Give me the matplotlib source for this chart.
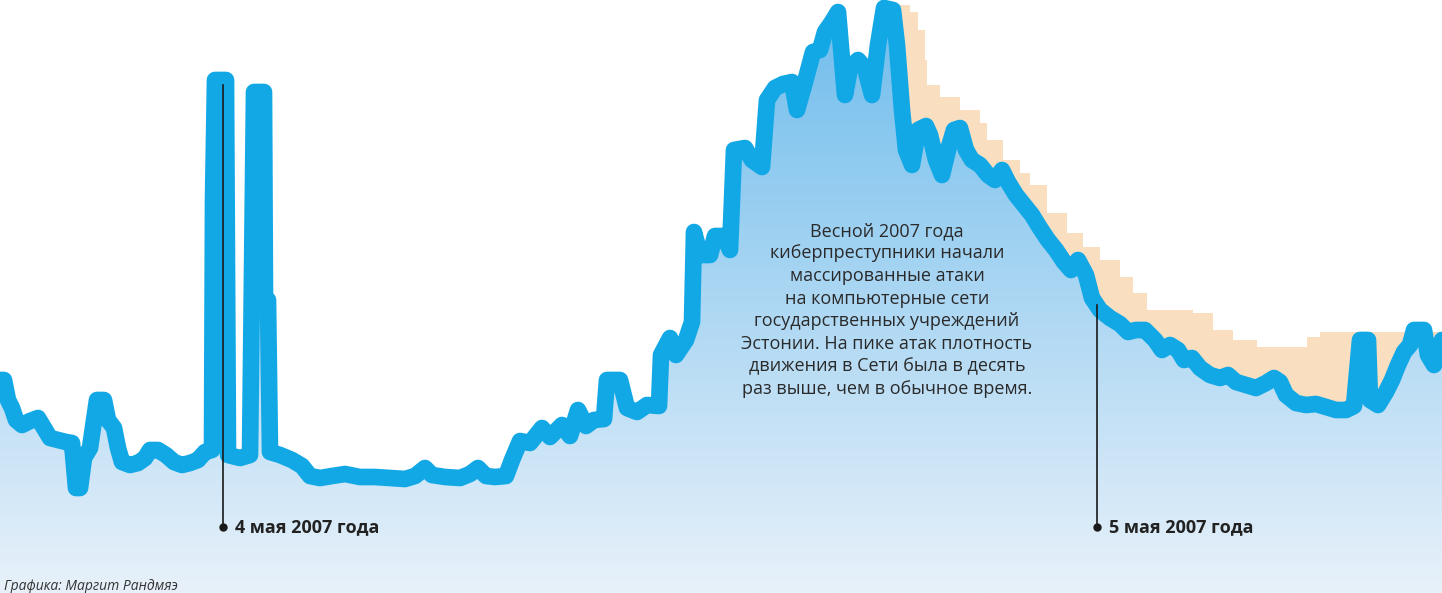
"""
Сетевой трафик Эстонии, атаки весны 2007 года.
"""
import numpy as np
import matplotlib.pyplot as plt
from matplotlib.patches import Polygon

# Основная серия: позиция по времени и уровень трафика (в условных единицах)
t_main = [4, 8, 12, 16, 22, 30, 38, 44, 50, 58, 66, 72, 76, 80, 84, 90, 97, 104,
          108, 114, 118, 122, 130, 138, 145, 150, 158, 166, 174, 182, 190, 198,
          205, 212, 213, 215, 226, 228, 240, 250, 254, 264, 265, 268, 270, 280,
          292, 302, 310, 320, 332, 345, 360, 375, 390, 405, 415, 425, 432, 445,
          460, 470, 478, 486, 495, 506, 512, 520, 530, 542, 550, 562, 570, 578,
          586, 594, 604, 607, 620, 627, 637, 647, 659, 661, 670, 676, 686, 692,
          694, 700, 710, 715, 724, 730, 734, 745, 752, 762, 767, 775, 783, 792,
          797, 805, 813, 820, 825, 832, 838, 842, 845, 850, 858, 865, 872, 878,
          884, 893, 897, 902, 906, 912, 918, 926, 930, 936, 942, 948, 954, 960,
          966, 972, 980, 988, 995, 1002, 1008, 1016, 1024, 1032, 1040, 1048,
          1056, 1064, 1071, 1078, 1086, 1092, 1100, 1110, 1120, 1128, 1136, 1145,
          1155, 1162, 1170, 1178, 1184, 1192, 1200, 1210, 1220, 1228, 1236, 1246,
          1256, 1266, 1274, 1280, 1286, 1296, 1306, 1316, 1326, 1336, 1346, 1354,
          1360, 1368, 1370, 1378, 1386, 1392, 1398, 1404, 1410, 1414, 1424, 1428,
          1434, 1442]
traffic = [213, 193, 185, 173, 168, 172, 175, 165, 155, 153, 151, 150, 105, 105,
           135, 145, 193, 193, 173, 165, 145, 131, 128, 130, 135, 143, 143, 138,
           131, 128, 130, 133, 141, 143, 393, 513, 513, 138, 135, 138, 501, 501,
           293, 293, 141, 138, 133, 127, 117, 115, 117, 119, 116, 116, 115, 114,
           117, 125, 118, 116, 115, 119, 125, 117, 116, 117, 133, 152, 150, 165,
           156, 168, 157, 183, 167, 173, 174, 213, 213, 185, 181, 188, 187, 238,
           255, 238, 253, 271, 361, 338, 338, 357, 357, 343, 443, 445, 433, 426,
           493, 505, 509, 511, 483, 511, 541, 543, 561, 571, 581, 533, 498, 525,
           533, 525, 498, 548, 585, 583, 548, 483, 443, 428, 463, 467, 458, 433,
           418, 443, 463, 465, 443, 433, 428, 418, 413, 423, 411, 398, 388, 378,
           365, 353, 343, 331, 323, 333, 318, 295, 283, 275, 269, 261, 263, 263,
           253, 243, 248, 243, 233, 235, 225, 218, 215, 218, 211, 208, 205, 210,
           215, 211, 198, 190, 188, 189, 186, 183, 183, 187, 253, 253, 193, 188,
           201, 213, 228, 241, 248, 263, 263, 238, 228, 253]

# Вторая серия (бежевая) после пика
t_second = [895, 905, 910, 918, 925, 927, 940, 960, 980, 987, 1003, 1020, 1030,
            1047, 1067, 1083, 1100, 1120, 1133, 1147, 1193, 1213, 1233, 1257,
            1293, 1307, 1320, 1442]
traffic_second = [588, 588, 581, 563, 533, 508, 496, 483, 470, 453, 433, 420,
                  408, 380, 360, 346, 333, 316, 300, 283, 280, 263, 253, 246,
                  246, 256, 261, 266]

# Отметки дат
date_pos = [223, 1097]
date_top = [508, 288]
date_labels = ["4 мая 2007 года", "5 мая 2007 года"]

note = ("Весной 2007 года\nкиберпреступники начали\nмассированные атаки\n"
        "на компьютерные сети\nгосударственных учреждений\n"
        "Эстонии. На пике атак плотность\nдвижения в Сети была в десять\n"
        "раз выше, чем в обычное время.")

W, H = 1442, 593

fig = plt.figure(figsize=(W / 100, H / 100), dpi=100)
ax = fig.add_axes([0, 0, 1, 1])
ax.set_xlim(0, W)
ax.set_ylim(0, H)
ax.axis("off")

# бежевая область
ax.fill_between(t_second, traffic_second, 0, step="post",
                color="#f9dfc0", lw=0, zorder=1)

# градиентная заливка под основной линией
top = np.array([110, 188, 236]) / 255
bottom = np.array([232, 241, 250]) / 255
k = np.linspace(0, 1, 256)[:, None]
grad = (bottom + (top - bottom) * k)[:, None, :]
im = ax.imshow(grad, extent=[0, W, 0, H], origin="lower", aspect="auto",
               zorder=2, interpolation="bilinear")
verts = list(zip(t_main, traffic)) + [(t_main[-1], 0), (t_main[0], 0), (0, 0),
                                      (0, traffic[0])]
clip = Polygon(verts, closed=True, transform=ax.transData, facecolor="none",
               edgecolor="none")
ax.add_patch(clip)
im.set_clip_path(clip)

ax.plot([0] + t_main, [traffic[0]] + traffic, color="#12a8e6", lw=12,
        solid_joinstyle="round", solid_capstyle="round", zorder=4)

# отметки дат
for x, y0, lab in zip(date_pos, date_top, date_labels):
    ax.plot([x, x], [y0, 66], color="#1a1a1a", lw=1.2, zorder=5)
    ax.plot(x, 66, "o", color="#1a1a1a", ms=5, zorder=6)
    ax.text(x + 12, 66, lab, fontsize=13, fontweight="bold", family="Open Sans",
            color="#222222", va="center", ha="left", zorder=6)

ax.text(887, 283, note, fontsize=13, family="Open Sans", color="#2a2a2a",
        ha="center", va="center", linespacing=1.33, zorder=6)

ax.text(4, 7, "Графика: Маргит Рандмяэ", fontsize=10, family="Open Sans",
        style="italic", color="#333333", ha="left", va="center", zorder=6)

fig.savefig("out.png", dpi=100)
